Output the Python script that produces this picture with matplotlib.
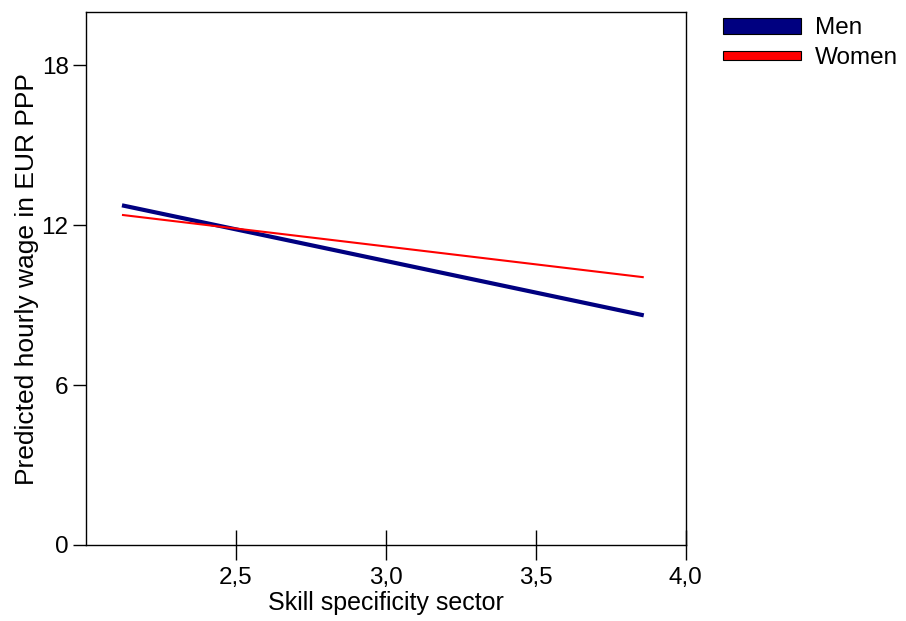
import matplotlib
matplotlib.use("Agg")
import matplotlib.pyplot as plt
from matplotlib.patches import Rectangle, Patch
from matplotlib.legend_handler import HandlerPatch

plt.rcParams['font.family'] = ['Liberation Sans', 'DejaVu Sans']

# data
skill = [2.12, 3.86]
men = [12.75, 8.62]
women = [12.39, 10.05]
xticks = [2.5, 3.0, 3.5, 4.0]
xlabels = ["2,5", "3,0", "3,5", "4,0"]
yticks = [0, 6, 12, 18]
series = ["Men", "Women"]
colors = ["#000080", "#ff0000"]

fig = plt.figure(figsize=(9.06, 6.21), dpi=100)
ax = fig.add_axes([0.0949, 0.1224, 0.662, 0.858])

ax.plot(skill, men, color=colors[0], lw=3.0, solid_capstyle='butt')
ax.plot(skill, women, color=colors[1], lw=1.5, solid_capstyle='butt')

ax.set_xlim(2.0, 4.0)
ax.set_ylim(0, 20)
ax.set_xticks(xticks)
ax.set_xticklabels(xlabels)
ax.set_yticks(yticks)
ax.tick_params(axis='x', direction='inout', length=22, width=1, labelsize=17.5, pad=5)
ax.tick_params(axis='y', direction='out', length=9.5, width=1, labelsize=17.5, pad=3)
for s in ax.spines.values():
    s.set_linewidth(1)

ax.set_xlabel("Skill specificity sector", fontsize=18, labelpad=1)
ax.set_ylabel("Predicted hourly wage in EUR PPP", fontsize=19, labelpad=2)


def make_rect(legend, orig_handle, xdescent, ydescent, width, height, fontsize):
    h = orig_handle.bar_h
    return Rectangle((-xdescent, -ydescent + (height - h) / 2), width, h)


handles = []
for name, c, h in zip(series, colors, [11.5, 6.0]):
    p = Patch(facecolor=c, edgecolor='black', linewidth=0.8, label=name)
    p.bar_h = h
    handles.append(p)

fig.legend(handles=handles, loc='upper left', bbox_to_anchor=(0.787, 0.99),
           frameon=False, fontsize=17.5, handlelength=3.2, handleheight=0.9,
           handletextpad=0.6, labelspacing=0.25, borderaxespad=0,
           handler_map={Patch: HandlerPatch(patch_func=make_rect)})

fig.savefig("out.png", dpi=100)
